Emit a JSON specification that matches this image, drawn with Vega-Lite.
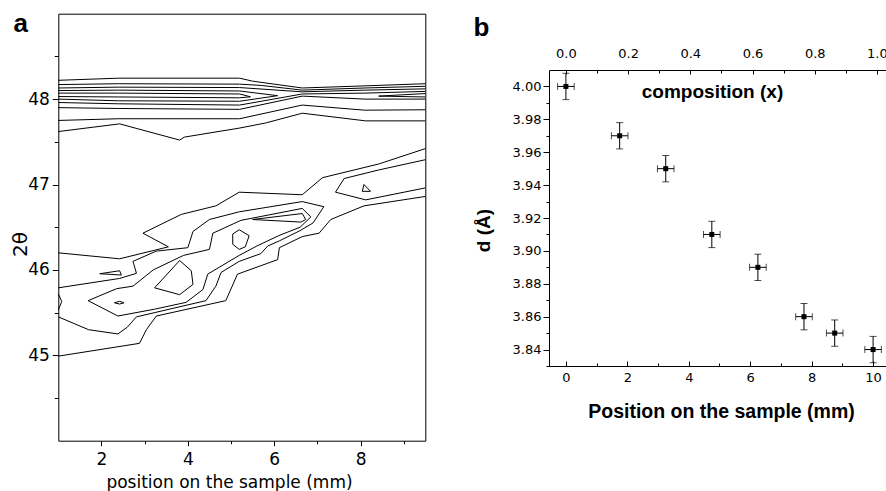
{
  "$schema": "https://vega.github.io/schema/vega-lite/v6.json",
  "width": 886,
  "height": 491,
  "autosize": {"type": "none"},
  "padding": 0,
  "background": "white",
  "datasets": {
    "contours": [
      {"c": "C1", "x": 1, "y": 48.22}, {"c": "C1", "x": 2.4, "y": 48.245}, {"c": "C1", "x": 5.2, "y": 48.245}, {"c": "C1", "x": 5.5, "y": 48.21}, {"c": "C1", "x": 6.65, "y": 48.13}, {"c": "C1", "x": 8.1, "y": 48.155}, {"c": "C1", "x": 9.5, "y": 48.18},
      {"c": "C2", "x": 1, "y": 48.17}, {"c": "C2", "x": 2.4, "y": 48.18}, {"c": "C2", "x": 5.2, "y": 48.175}, {"c": "C2", "x": 5.7, "y": 48.16}, {"c": "C2", "x": 6.65, "y": 48.105}, {"c": "C2", "x": 8.1, "y": 48.13}, {"c": "C2", "x": 9.5, "y": 48.15},
      {"c": "C3", "x": 1, "y": 48.13}, {"c": "C3", "x": 2.4, "y": 48.14}, {"c": "C3", "x": 5.2, "y": 48.135}, {"c": "C3", "x": 6.65, "y": 48.085}, {"c": "C3", "x": 8.1, "y": 48.105}, {"c": "C3", "x": 9.5, "y": 48.12},
      {"c": "LA", "x": 1, "y": 48.1}, {"c": "LA", "x": 2.4, "y": 48.105}, {"c": "LA", "x": 5.2, "y": 48.095}, {"c": "LA", "x": 6.08, "y": 48.04}, {"c": "LA", "x": 5.2, "y": 47.975}, {"c": "LA", "x": 2.4, "y": 47.98}, {"c": "LA", "x": 1, "y": 48.0},
      {"c": "LB", "x": 1, "y": 48.07}, {"c": "LB", "x": 2.4, "y": 48.07}, {"c": "LB", "x": 5.2, "y": 48.06}, {"c": "LB", "x": 5.45, "y": 48.027}, {"c": "LB", "x": 5.2, "y": 48.015}, {"c": "LB", "x": 2.4, "y": 48.025}, {"c": "LB", "x": 1, "y": 48.03},
      {"c": "C4", "x": 1, "y": 47.96}, {"c": "C4", "x": 2.4, "y": 47.945}, {"c": "C4", "x": 5.2, "y": 47.93}, {"c": "C4", "x": 6.65, "y": 48.06}, {"c": "C4", "x": 8.1, "y": 48.07}, {"c": "C4", "x": 9.5, "y": 48.09},
      {"c": "C5", "x": 1, "y": 47.9}, {"c": "C5", "x": 2.4, "y": 47.89}, {"c": "C5", "x": 5.2, "y": 47.88}, {"c": "C5", "x": 6.65, "y": 48.035}, {"c": "C5", "x": 8.1, "y": 48.0}, {"c": "C5", "x": 9.5, "y": 48.0},
      {"c": "LC", "x": 9.5, "y": 48.065}, {"c": "LC", "x": 8.42, "y": 48.035}, {"c": "LC", "x": 9.5, "y": 48.025},
      {"c": "C6", "x": 1, "y": 47.75}, {"c": "C6", "x": 2.4, "y": 47.77}, {"c": "C6", "x": 5.2, "y": 47.77}, {"c": "C6", "x": 6.65, "y": 47.93}, {"c": "C6", "x": 8.1, "y": 47.87}, {"c": "C6", "x": 9.5, "y": 47.875},
      {"c": "C7", "x": 1, "y": 47.62}, {"c": "C7", "x": 2.42, "y": 47.71}, {"c": "C7", "x": 3.81, "y": 47.52}, {"c": "C7", "x": 3.92, "y": 47.555}, {"c": "C7", "x": 5.19, "y": 47.66}, {"c": "C7", "x": 5.8, "y": 47.72}, {"c": "C7", "x": 6.65, "y": 47.835}, {"c": "C7", "x": 8.12, "y": 47.745}, {"c": "C7", "x": 9.5, "y": 47.745},
      {"c": "K1", "x": 9.5, "y": 47.42}, {"c": "K1", "x": 8.42, "y": 47.24}, {"c": "K1", "x": 7.12, "y": 47.08}, {"c": "K1", "x": 6.65, "y": 46.88}, {"c": "K1", "x": 5.19, "y": 46.91}, {"c": "K1", "x": 4.65, "y": 46.75}, {"c": "K1", "x": 3.85, "y": 46.65}, {"c": "K1", "x": 2.96, "y": 46.43}, {"c": "K1", "x": 3.55, "y": 46.27}, {"c": "K1", "x": 2.42, "y": 46.13}, {"c": "K1", "x": 1, "y": 46.2},
      {"c": "K0", "x": 1, "y": 44.99}, {"c": "K0", "x": 2.88, "y": 45.14}, {"c": "K0", "x": 3.04, "y": 45.3}, {"c": "K0", "x": 3.27, "y": 45.46}, {"c": "K0", "x": 4.88, "y": 45.64}, {"c": "K0", "x": 5.15, "y": 45.95}, {"c": "K0", "x": 6.08, "y": 46.12}, {"c": "K0", "x": 6.12, "y": 46.26}, {"c": "K0", "x": 6.65, "y": 46.39}, {"c": "K0", "x": 7.04, "y": 46.43}, {"c": "K0", "x": 7.31, "y": 46.59}, {"c": "K0", "x": 8.08, "y": 46.75}, {"c": "K0", "x": 9.5, "y": 46.86},
      {"c": "KU", "x": 9.5, "y": 47.29}, {"c": "KU", "x": 8.42, "y": 47.17}, {"c": "KU", "x": 7.62, "y": 47.07}, {"c": "KU", "x": 7.42, "y": 46.91}, {"c": "KU", "x": 8.12, "y": 46.82}, {"c": "KU", "x": 9.5, "y": 46.96},
      {"c": "KT", "x": 8.08, "y": 47.0}, {"c": "KT", "x": 8.23, "y": 46.92}, {"c": "KT", "x": 8.04, "y": 46.92}, {"c": "KT", "x": 8.08, "y": 47.0},
      {"c": "K2", "x": 1, "y": 45.45}, {"c": "K2", "x": 1.7, "y": 45.3}, {"c": "K2", "x": 2.38, "y": 45.25}, {"c": "K2", "x": 2.6, "y": 45.33}, {"c": "K2", "x": 2.81, "y": 45.45}, {"c": "K2", "x": 4.42, "y": 45.64}, {"c": "K2", "x": 4.65, "y": 45.81}, {"c": "K2", "x": 4.77, "y": 45.97}, {"c": "K2", "x": 5.19, "y": 46.1}, {"c": "K2", "x": 5.69, "y": 46.19}, {"c": "K2", "x": 5.85, "y": 46.28}, {"c": "K2", "x": 6.12, "y": 46.34}, {"c": "K2", "x": 6.6, "y": 46.46}, {"c": "K2", "x": 6.9, "y": 46.55}, {"c": "K2", "x": 7.15, "y": 46.74}, {"c": "K2", "x": 6.65, "y": 46.8}, {"c": "K2", "x": 5.19, "y": 46.68}, {"c": "K2", "x": 4.5, "y": 46.59}, {"c": "K2", "x": 4.12, "y": 46.45}, {"c": "K2", "x": 4.0, "y": 46.26}, {"c": "K2", "x": 3.27, "y": 46.22}, {"c": "K2", "x": 2.73, "y": 46.1}, {"c": "K2", "x": 2.81, "y": 45.96}, {"c": "K2", "x": 2.42, "y": 45.9}, {"c": "K2", "x": 1, "y": 45.79},
      {"c": "K3", "x": 1.69, "y": 45.64}, {"c": "K3", "x": 2.38, "y": 45.46}, {"c": "K3", "x": 3.23, "y": 45.54}, {"c": "K3", "x": 3.96, "y": 45.62}, {"c": "K3", "x": 4.35, "y": 45.77}, {"c": "K3", "x": 4.46, "y": 45.95}, {"c": "K3", "x": 5.19, "y": 46.17}, {"c": "K3", "x": 5.6, "y": 46.28}, {"c": "K3", "x": 6.1, "y": 46.4}, {"c": "K3", "x": 6.6, "y": 46.5}, {"c": "K3", "x": 6.85, "y": 46.62}, {"c": "K3", "x": 6.65, "y": 46.72}, {"c": "K3", "x": 5.23, "y": 46.58}, {"c": "K3", "x": 4.58, "y": 46.43}, {"c": "K3", "x": 4.5, "y": 46.24}, {"c": "K3", "x": 3.9, "y": 46.17}, {"c": "K3", "x": 3.2, "y": 46.0}, {"c": "K3", "x": 2.73, "y": 45.81}, {"c": "K3", "x": 2.35, "y": 45.78}, {"c": "K3", "x": 1.69, "y": 45.64},
      {"c": "LD", "x": 5.04, "y": 46.42}, {"c": "LD", "x": 5.19, "y": 46.47}, {"c": "LD", "x": 5.42, "y": 46.4}, {"c": "LD", "x": 5.33, "y": 46.27}, {"c": "LD", "x": 5.19, "y": 46.24}, {"c": "LD", "x": 5.04, "y": 46.3}, {"c": "LD", "x": 5.04, "y": 46.42},
      {"c": "LT", "x": 5.5, "y": 46.59}, {"c": "LT", "x": 6.65, "y": 46.66}, {"c": "LT", "x": 6.73, "y": 46.59}, {"c": "LT", "x": 6.62, "y": 46.56}, {"c": "LT", "x": 5.5, "y": 46.59},
      {"c": "LM", "x": 3.23, "y": 45.79}, {"c": "LM", "x": 3.81, "y": 46.11}, {"c": "LM", "x": 4.08, "y": 45.99}, {"c": "LM", "x": 4.12, "y": 45.83}, {"c": "LM", "x": 3.81, "y": 45.71}, {"c": "LM", "x": 3.23, "y": 45.79},
      {"c": "LS", "x": 1.96, "y": 45.955}, {"c": "LS", "x": 2.42, "y": 45.99}, {"c": "LS", "x": 2.46, "y": 45.94}, {"c": "LS", "x": 1.96, "y": 45.955},
      {"c": "LE", "x": 2.3, "y": 45.615}, {"c": "LE", "x": 2.42, "y": 45.632}, {"c": "LE", "x": 2.52, "y": 45.615}, {"c": "LE", "x": 2.42, "y": 45.6}, {"c": "LE", "x": 2.3, "y": 45.615},
      {"c": "LL", "x": 1, "y": 45.72}, {"c": "LL", "x": 1.08, "y": 45.63}, {"c": "LL", "x": 1, "y": 45.53}
    ],
    "pts": [
      {"pos": 0, "d": 4.0, "dErr": 0.008, "pErr": 0.27},
      {"pos": 1.75, "d": 3.97, "dErr": 0.008, "pErr": 0.27},
      {"pos": 3.25, "d": 3.95, "dErr": 0.008, "pErr": 0.27},
      {"pos": 4.75, "d": 3.91, "dErr": 0.008, "pErr": 0.27},
      {"pos": 6.25, "d": 3.89, "dErr": 0.008, "pErr": 0.27},
      {"pos": 7.75, "d": 3.86, "dErr": 0.008, "pErr": 0.27},
      {"pos": 8.75, "d": 3.85, "dErr": 0.008, "pErr": 0.27},
      {"pos": 10, "d": 3.84, "dErr": 0.008, "pErr": 0.27}
    ]
  },
  "layer": [
    {
      "data": {"name": "contours"},
      "layer": [
        {
          "mark": {"type": "line", "color": "black", "strokeWidth": 1},
          "encoding": {
            "x": {"field": "x", "type": "quantitative", "scale": {"domain": [1, 9.5], "range": [58.3, 425.3], "nice": false, "zero": false},
              "axis": {"orient": "bottom", "offset": -50.3, "values": [2, 4, 6, 8], "tickSize": 5, "labelPadding": 6, "labelFont": "DejaVu Sans", "labelFontSize": 17,
                "title": "position on the sample (mm)", "titleFont": "DejaVu Sans", "titleFontSize": 17, "titleFontWeight": "normal", "titleX": 229, "titleY": 47, "titleAlign": "center", "titleBaseline": "alphabetic"}},
            "y": {"field": "y", "type": "quantitative", "scale": {"domain": [44, 49], "range": [440.7, 13.7], "nice": false, "zero": false},
              "axis": {"orient": "left", "offset": -58.3, "values": [45, 46, 47, 48], "tickSize": 6, "labelPadding": 3, "labelFont": "DejaVu Sans", "labelFontSize": 17,
                "title": "2θ", "titleFont": "DejaVu Sans", "titleFontSize": 20, "titleFontWeight": "normal", "titleX": -38, "titleY": 244, "titleAlign": "center", "titleBaseline": "middle", "titleAngle": -90}},
            "detail": {"field": "c"},
            "order": {"value": null}
          }
        },
        {
          "mark": {"type": "point", "opacity": 0},
          "encoding": {
            "x": {"field": "x", "type": "quantitative", "scale": {"domain": [1, 9.5], "range": [58.3, 425.3], "nice": false, "zero": false},
              "axis": {"orient": "bottom", "offset": -50.3, "values": [3, 5, 7, 9], "labels": false, "title": null, "domain": false, "tickSize": 3}},
            "y": {"field": "y", "type": "quantitative", "scale": {"domain": [44, 49], "range": [440.7, 13.7], "nice": false, "zero": false},
              "axis": {"orient": "left", "offset": -58.3, "values": [44.5, 45.5, 46.5, 47.5, 48.5], "labels": false, "title": null, "domain": false, "tickSize": 4}}
          }
        },
        {
          "mark": {"type": "point", "opacity": 0},
          "encoding": {
            "x": {"field": "x", "type": "quantitative", "scale": {"domain": [1, 9.5], "range": [58.3, 425.3], "nice": false, "zero": false},
              "axis": {"orient": "top", "offset": -13.7, "ticks": false, "labels": false, "domain": true,
                "title": "a", "titleX": 13, "titleY": 18, "titleAlign": "left", "titleBaseline": "alphabetic", "titleAngle": 0, "titleFont": "Liberation Sans", "titleFontSize": 26, "titleFontWeight": "bold"}},
            "y": {"field": "y", "type": "quantitative", "scale": {"domain": [44, 49], "range": [440.7, 13.7], "nice": false, "zero": false},
              "axis": {"orient": "right", "offset": -460.7, "ticks": false, "labels": false, "domain": true, "title": null}}
          }
        }
      ],
      "resolve": {"axis": {"x": "independent", "y": "independent"}}
    },
    {
      "data": {"name": "pts"},
      "layer": [
        {
          "mark": {"type": "errorbar", "ticks": {"size": 7}, "color": "black"},
          "encoding": {
            "x": {"field": "pos", "type": "quantitative", "scale": {"domain": [-0.55, 10.42], "range": [549, 886], "nice": false, "zero": false},
              "axis": {"orient": "top", "offset": -70, "values": [0, 2.025, 4.05, 6.075, 8.1, 10.125], "labelExpr": "format(datum.value / 10.125, '.1f')", "tickSize": -4, "labelPadding": 14, "labelFont": "DejaVu Sans", "labelFontSize": 13,
                "title": "composition (x)", "titleFont": "Liberation Sans", "titleFontWeight": "bold", "titleFontSize": 19, "titleX": 712, "titleY": 27, "titleAlign": "center", "titleBaseline": "alphabetic", "titleAngle": 0}},
            "y": {"field": "d", "type": "quantitative", "scale": {"domain": [3.83, 4.01], "range": [366, 70], "nice": false, "zero": false},
              "axis": {"orient": "left", "offset": -549, "values": [3.84, 3.86, 3.88, 3.9, 3.92, 3.94, 3.96, 3.98, 4.0], "format": ".2f", "tickSize": 6, "labelPadding": 2, "labelFont": "DejaVu Sans", "labelFontSize": 13,
                "title": "d (Å)", "titleFont": "Liberation Sans", "titleFontWeight": "bold", "titleFontSize": 19, "titleX": -66, "titleY": 230, "titleAlign": "center", "titleBaseline": "middle", "titleAngle": -90}},
            "yError": {"field": "dErr"}
          }
        },
        {
          "mark": {"type": "errorbar", "ticks": {"size": 7}, "color": "black"},
          "encoding": {
            "x": {"field": "pos", "type": "quantitative", "scale": {"domain": [-0.55, 10.42], "range": [549, 886], "nice": false, "zero": false},
              "axis": {"orient": "bottom", "offset": -125, "values": [0, 2, 4, 6, 8, 10], "format": "d", "tickSize": -5, "labelPadding": 10, "labelFont": "DejaVu Sans", "labelFontSize": 13,
                "title": "Position on the sample (mm)", "titleFont": "Liberation Sans", "titleFontWeight": "bold", "titleFontSize": 19.5, "titleX": 721, "titleY": 51, "titleAlign": "center", "titleBaseline": "alphabetic"}},
            "y": {"field": "d", "type": "quantitative", "scale": {"domain": [3.83, 4.01], "range": [366, 70], "nice": false, "zero": false},
              "axis": {"orient": "left", "offset": -549, "values": [3.83, 3.85, 3.87, 3.89, 3.91, 3.93, 3.95, 3.97, 3.99], "labels": false, "title": null, "domain": false, "tickSize": 3}},
            "xError": {"field": "pErr"}
          }
        },
        {
          "mark": {"type": "point", "shape": "square", "filled": true, "size": 25, "color": "black", "opacity": 1},
          "encoding": {
            "x": {"field": "pos", "type": "quantitative", "scale": {"domain": [-0.55, 10.42], "range": [549, 886], "nice": false, "zero": false},
              "axis": {"orient": "bottom", "offset": -125, "values": [1, 3, 5, 7, 9], "labels": false, "title": null, "domain": false, "tickSize": -3}},
            "y": {"field": "d", "type": "quantitative", "scale": {"domain": [3.83, 4.01], "range": [366, 70], "nice": false, "zero": false}, "axis": null}
          }
        },
        {
          "mark": {"type": "point", "opacity": 0},
          "encoding": {
            "x": {"field": "pos", "type": "quantitative", "scale": {"domain": [-0.55, 10.42], "range": [549, 886], "nice": false, "zero": false},
              "axis": {"orient": "top", "offset": -70, "values": [1.0125, 3.0375, 5.0625, 7.0875, 9.1125], "labels": false, "domain": false, "tickSize": -3,
                "title": "b", "titleX": 473, "titleY": -35, "titleAlign": "left", "titleBaseline": "alphabetic", "titleAngle": 0, "titleFont": "Liberation Sans", "titleFontSize": 26, "titleFontWeight": "bold"}},
            "y": {"field": "d", "type": "quantitative", "scale": {"domain": [3.83, 4.01], "range": [366, 70], "nice": false, "zero": false}, "axis": null}
          }
        }
      ],
      "resolve": {"axis": {"x": "independent", "y": "independent"}}
    }
  ],
  "resolve": {"scale": {"x": "independent", "y": "independent"}, "axis": {"x": "independent", "y": "independent"}},
  "config": {
    "view": {"stroke": null},
    "axis": {"grid": false, "domainColor": "black", "tickColor": "black", "labelColor": "black", "titleColor": "black", "domainWidth": 1, "tickWidth": 1}
  }
}
